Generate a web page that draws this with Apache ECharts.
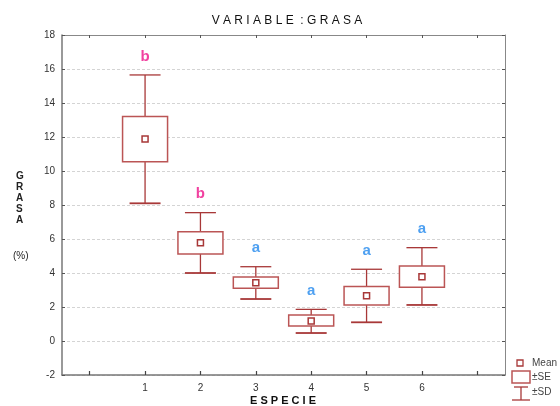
<!DOCTYPE html>
<html><head><meta charset="utf-8">
<script src="https://cdn.jsdelivr.net/npm/echarts@6/dist/echarts.min.js"></script>
<style>html,body{margin:0;padding:0;background:#fff}#c{width:560px;height:406px}</style>
</head><body><div id="c"></div>
<script>
var categories = ['1','2','3','4','5','6'];
var means  = [11.88, 5.78, 3.43, 1.18, 2.66, 3.78];
var seLow  = [10.55, 5.12, 3.10, 0.88, 2.12, 3.16];
var seHigh = [13.20, 6.43, 3.76, 1.53, 3.20, 4.41];
var sdLow  = [8.10, 4.00, 2.47, 0.47, 1.10, 2.12];
var sdHigh = [15.65, 7.55, 4.37, 1.86, 4.22, 5.49];
var letters = ['b','b','a','a','a','a'];
var yTicks = [-2,0,2,4,6,8,10,12,14,16,18];

var axisCats = [''].concat(categories).concat(['']);
var letterColor = {a:'#2288ee', b:'#ee1188'};
var dark = '#a83838', boxc = '#bb5555';

var boxData = categories.map(function(c,i){return [i+1, sdLow[i], seLow[i], means[i], seHigh[i], sdHigh[i]];});
var lblData = categories.map(function(c,i){return {value:[i+1, sdHigh[i]], letter:letters[i], label:{color:letterColor[letters[i]]}};});

var chart = echarts.init(document.getElementById('c'), null, {renderer:'canvas'});
var lblFont = {color:'#333', fontSize:10, fontFamily:'Liberation Sans, Arial, sans-serif'};
chart.setOption({
  animation:false,
  backgroundColor:'#fff',
  title:{text:'V A R I A B L E  : G R A S A', left:282, top:10, textAlign:'center',
    textStyle:{fontSize:12, fontWeight:'normal', color:'#111', fontFamily:'Liberation Sans, Arial, sans-serif'}},
  grid:{left:62, right:55, top:35, bottom:31},
  xAxis:[{type:'category', data:axisCats, boundaryGap:true,
    axisLine:{onZero:false, lineStyle:{color:'#777', width:1.5}},
    axisTick:{show:true, inside:true, length:4, alignWithLabel:true, interval:0, lineStyle:{color:'#444', width:1.2}},
    axisLabel:Object.assign({interval:0, margin:8}, lblFont),
    splitLine:{show:false}},
   {type:'category', data:axisCats, boundaryGap:true, position:'top',
    axisLine:{onZero:false, lineStyle:{color:'#888', width:1}},
    axisTick:{show:true, inside:true, length:3, alignWithLabel:true, interval:0, lineStyle:{color:'#555'}},
    axisLabel:{show:false}, splitLine:{show:false}}],
  yAxis:[{type:'value', min:-2, max:18, interval:2,
    axisLine:{show:true, onZero:false, lineStyle:{color:'#777', width:1.5}},
    axisTick:{show:true, inside:true, length:3, lineStyle:{color:'#555'}},
    axisLabel:Object.assign({margin:7, formatter:function(v){return yTicks.indexOf(v)>=0?String(v):'';}}, lblFont),
    splitLine:{show:true, lineStyle:{color:'#d4d4d4', type:[3,2], width:1}}},
   {type:'value', min:-2, max:18, interval:2, position:'right',
    axisLine:{show:true, onZero:false, lineStyle:{color:'#888', width:1}},
    axisTick:{show:true, inside:true, length:3, lineStyle:{color:'#555'}},
    axisLabel:{show:false}, splitLine:{show:false}}],
  series:[{
    type:'custom', xAxisIndex:0, yAxisIndex:0, data:boxData,
    renderItem:function(params, api){
      var x = api.value(0);
      var pSdL = api.coord([x, api.value(1)]);
      var pSeL = api.coord([x, api.value(2)]);
      var pM   = api.coord([x, api.value(3)]);
      var pSeH = api.coord([x, api.value(4)]);
      var pSdH = api.coord([x, api.value(5)]);
      var cx = pM[0], bw = 45, cw = 31, ms = 6;
      var ls = {stroke:dark, lineWidth:1.3};
      return {type:'group', children:[
        {type:'line', shape:{x1:cx,y1:pSdH[1],x2:cx,y2:pSeH[1]}, style:ls},
        {type:'line', shape:{x1:cx,y1:pSeL[1],x2:cx,y2:pSdL[1]}, style:ls},
        {type:'line', shape:{x1:cx-cw/2,y1:pSdH[1],x2:cx+cw/2,y2:pSdH[1]}, style:ls},
        {type:'line', shape:{x1:cx-cw/2,y1:pSdL[1],x2:cx+cw/2,y2:pSdL[1]}, style:{stroke:dark,lineWidth:1.8}},
        {type:'rect', shape:{x:cx-bw/2, y:pSeH[1], width:bw, height:pSeL[1]-pSeH[1]}, style:{fill:'#fff', stroke:boxc, lineWidth:1.5}},
        {type:'rect', shape:{x:cx-ms/2, y:pM[1]-ms/2, width:ms, height:ms}, style:{fill:'#fff', stroke:dark, lineWidth:1.5}}
      ]};
    }, z:3
  },{
    type:'scatter', xAxisIndex:0, yAxisIndex:0, symbolSize:0, data:lblData, z:4,
    label:{show:true, position:'top', distance:11,
      formatter:function(p){return p.data.letter;},
      fontSize:15, fontWeight:'bold', fontFamily:'Liberation Sans, Arial, sans-serif'}
  }],
  graphic:[
    {type:'text', left:16, top:171, style:{text:'G\nR\nA\nS\nA', fill:'#222', font:'bold 10px Liberation Sans, Arial, sans-serif', lineHeight:11, align:'center'}},
    {type:'text', left:13, top:251, style:{text:'(%)', fill:'#222', font:'10px Liberation Sans, Arial, sans-serif'}},
    {type:'text', left:250, top:395, style:{text:'E S P E C I E', fill:'#111', font:'bold 11px Liberation Sans, Arial, sans-serif'}},
    {type:'rect', shape:{x:517, y:360, width:6, height:6}, style:{fill:'#fff', stroke:dark, lineWidth:1.3}},
    {type:'text', x:532, y:358, style:{text:'Mean', fill:'#444', font:'10px Liberation Sans, Arial, sans-serif'}},
    {type:'rect', shape:{x:512, y:371, width:18, height:12}, style:{fill:'#fff', stroke:boxc, lineWidth:1.5}},
    {type:'text', x:532, y:372, style:{text:'±SE', fill:'#444', font:'10px Liberation Sans, Arial, sans-serif'}},
    {type:'line', shape:{x1:521,y1:387,x2:521,y2:400}, style:{stroke:dark, lineWidth:1.3}},
    {type:'line', shape:{x1:514,y1:387,x2:528,y2:387}, style:{stroke:dark, lineWidth:1.3}},
    {type:'line', shape:{x1:512,y1:400,x2:530,y2:400}, style:{stroke:dark, lineWidth:1.3}},
    {type:'text', x:532, y:387, style:{text:'±SD', fill:'#444', font:'10px Liberation Sans, Arial, sans-serif'}}
  ]
});
</script></body></html>
